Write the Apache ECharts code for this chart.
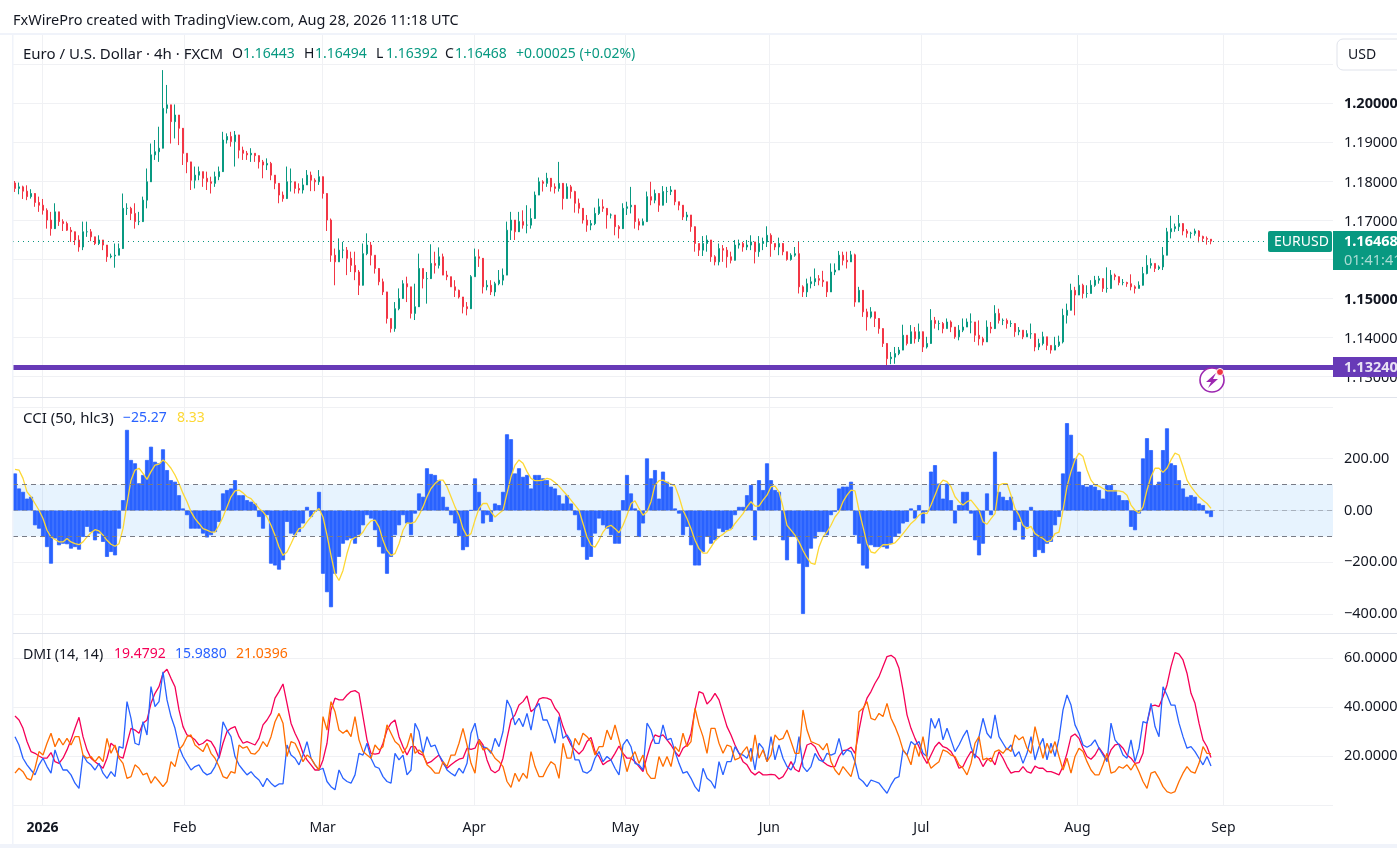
<!DOCTYPE html>
<html><head><meta charset="utf-8">
<style>html,body{margin:0;padding:0;background:#fff}#c{width:1397px;height:848px}</style>
<script src="https://cdn.jsdelivr.net/npm/echarts@6/dist/echarts.min.js"></script>
</head><body><div id="c"></div>
<script>
const priceHigh=[1.1801,1.1797,1.1789,1.1790,1.1780,1.1761,1.1761,1.1755,1.1731,1.1722,1.1744,1.1718,1.1703,1.1697,1.1683,1.1662,1.1662,1.1697,1.1697,1.1678,1.1654,1.1662,1.1645,1.1620,1.1615,1.1641,1.1641,1.1769,1.1744,1.1735,1.1744,1.1722,1.1761,1.1833,1.1897,1.1906,1.1940,1.2085,1.2047,1.1991,1.1997,1.1957,1.1923,1.1872,1.1825,1.1838,1.1838,1.1825,1.1825,1.1812,1.1825,1.1838,1.1927,1.1923,1.1927,1.1929,1.1893,1.1889,1.1878,1.1885,1.1872,1.1859,1.1855,1.1859,1.1850,1.1803,1.1782,1.1774,1.1838,1.1833,1.1799,1.1795,1.1808,1.1829,1.1825,1.1808,1.1829,1.1799,1.1756,1.1705,1.1628,1.1654,1.1645,1.1632,1.1620,1.1620,1.1573,1.1641,1.1667,1.1645,1.1611,1.1568,1.1551,1.1509,1.1449,1.1491,1.1526,1.1547,1.1556,1.1530,1.1538,1.1615,1.1577,1.1568,
1.1639,1.1620,1.1631,1.1615,1.1571,1.1556,1.1547,1.1523,1.1496,1.1491,1.1560,1.1628,1.1626,1.1564,1.1547,1.1547,1.1543,1.1573,1.1577,1.1697,1.1722,1.1691,1.1722,1.1726,1.1739,1.1731,1.1774,1.1810,1.1803,1.1822,1.1791,1.1795,1.1850,1.1778,1.1795,1.1791,1.1776,1.1756,1.1716,1.1714,1.1701,1.1733,1.1756,1.1754,1.1722,1.1718,1.1709,1.1688,1.1744,1.1748,1.1786,1.1726,1.1705,1.1705,1.1774,1.1799,1.1779,1.1761,1.1788,1.1786,1.1788,1.1774,1.1748,1.1718,1.1722,1.1705,1.1658,1.1641,1.1660,1.1662,1.1628,1.1611,1.1641,1.1637,1.1632,1.1620,1.1650,1.1651,1.1645,1.1650,1.1662,1.1645,1.1660,1.1656,1.1685,1.1667,1.1641,1.1656,1.1632,1.1620,1.1616,1.1632,1.1645,1.1534,1.1551,1.1556,1.1577,1.1560,1.1571,1.1543,1.1590,1.1590,1.1622,1.1620,1.1620,
1.1622,1.1615,1.1530,1.1487,1.1474,1.1478,1.1466,1.1438,1.1415,1.1380,1.1363,1.1376,1.1376,1.1433,1.1406,1.1432,1.1427,1.1436,1.1410,1.1402,1.1473,1.1453,1.1444,1.1440,1.1449,1.1444,1.1419,1.1432,1.1449,1.1449,1.1462,1.1436,1.1444,1.1402,1.1444,1.1440,1.1483,1.1474,1.1449,1.1449,1.1444,1.1423,1.1427,1.1419,1.1419,1.1436,1.1389,1.1397,1.1415,1.1402,1.1380,1.1402,1.1405,1.1474,1.1487,1.1538,1.1530,1.1560,1.1538,1.1534,1.1547,1.1558,1.1558,1.1547,1.1580,1.1573,1.1564,1.1547,1.1550,1.1543,1.1562,1.1534,1.1544,1.1581,1.1611,1.1603,1.1590,1.1585,1.1632,1.1681,1.1712,1.1692,1.1714,1.1686,1.1678,1.1671,1.1679,1.1675,1.1661,1.1659,1.1649];
const priceLow=[1.1773,1.1767,1.1755,1.1752,1.1756,1.1735,1.1722,1.1715,1.1679,1.1661,1.1697,1.1686,1.1673,1.1673,1.1645,1.1637,1.1620,1.1624,1.1658,1.1647,1.1637,1.1637,1.1624,1.1594,1.1603,1.1579,1.1611,1.1641,1.1714,1.1701,1.1679,1.1688,1.1709,1.1731,1.1838,1.1855,1.1850,1.1970,1.1974,1.1897,1.1910,1.1893,1.1842,1.1821,1.1778,1.1782,1.1803,1.1786,1.1778,1.1769,1.1786,1.1803,1.1859,1.1897,1.1889,1.1838,1.1859,1.1855,1.1855,1.1850,1.1850,1.1833,1.1808,1.1829,1.1803,1.1780,1.1744,1.1748,1.1778,1.1774,1.1769,1.1769,1.1769,1.1795,1.1775,1.1775,1.1791,1.1756,1.1673,1.1594,1.1534,1.1594,1.1603,1.1560,1.1568,1.1547,1.1509,1.1551,1.1611,1.1585,1.1564,1.1534,1.1509,1.1436,1.1413,1.1415,1.1470,1.1509,1.1491,1.1449,1.1445,1.1543,1.1526,1.1487,
1.1560,1.1564,1.1577,1.1560,1.1547,1.1530,1.1504,1.1500,1.1462,1.1457,1.1513,1.1556,1.1581,1.1513,1.1521,1.1509,1.1506,1.1534,1.1534,1.1586,1.1650,1.1650,1.1675,1.1679,1.1667,1.1679,1.1731,1.1769,1.1774,1.1786,1.1774,1.1769,1.1774,1.1728,1.1756,1.1756,1.1720,1.1718,1.1692,1.1671,1.1675,1.1688,1.1714,1.1722,1.1679,1.1705,1.1662,1.1654,1.1688,1.1714,1.1718,1.1679,1.1675,1.1688,1.1714,1.1739,1.1744,1.1722,1.1744,1.1745,1.1765,1.1739,1.1726,1.1701,1.1699,1.1671,1.1620,1.1609,1.1609,1.1620,1.1594,1.1585,1.1585,1.1594,1.1579,1.1590,1.1628,1.1628,1.1620,1.1624,1.1624,1.1590,1.1607,1.1624,1.1632,1.1607,1.1624,1.1611,1.1611,1.1597,1.1597,1.1607,1.1513,1.1504,1.1504,1.1526,1.1532,1.1534,1.1530,1.1504,1.1538,1.1560,1.1581,1.1585,1.1577,
1.1600,1.1479,1.1496,1.1453,1.1418,1.1449,1.1427,1.1410,1.1376,1.1329,1.1332,1.1333,1.1355,1.1380,1.1380,1.1393,1.1385,1.1389,1.1363,1.1372,1.1397,1.1423,1.1419,1.1411,1.1423,1.1414,1.1397,1.1393,1.1414,1.1427,1.1411,1.1389,1.1380,1.1380,1.1402,1.1411,1.1440,1.1436,1.1432,1.1423,1.1427,1.1402,1.1406,1.1396,1.1402,1.1397,1.1365,1.1368,1.1380,1.1368,1.1359,1.1370,1.1376,1.1385,1.1436,1.1509,1.1457,1.1513,1.1500,1.1502,1.1513,1.1530,1.1538,1.1517,1.1515,1.1547,1.1547,1.1534,1.1534,1.1530,1.1521,1.1513,1.1526,1.1536,1.1562,1.1577,1.1568,1.1573,1.1573,1.1637,1.1654,1.1671,1.1673,1.1662,1.1656,1.1654,1.1661,1.1644,1.1645,1.1638,1.1639];
const priceClose=[1.1782,1.1786,1.1775,1.1761,1.1769,1.1746,1.1739,1.1726,1.1701,1.1679,1.1722,1.1697,1.1692,1.1675,1.1671,1.1650,1.1632,1.1671,1.1671,1.1658,1.1641,1.1650,1.1637,1.1607,1.1609,1.1611,1.1628,1.1731,1.1731,1.1718,1.1697,1.1697,1.1752,1.1799,1.1868,1.1876,1.1885,1.1987,1.1996,1.1953,1.1970,1.1936,1.1872,1.1850,1.1803,1.1816,1.1825,1.1808,1.1799,1.1795,1.1812,1.1825,1.1906,1.1915,1.1902,1.1919,1.1880,1.1872,1.1868,1.1872,1.1866,1.1850,1.1842,1.1846,1.1816,1.1795,1.1765,1.1756,1.1799,1.1799,1.1782,1.1778,1.1791,1.1816,1.1803,1.1799,1.1812,1.1769,1.1701,1.1611,1.1594,1.1624,1.1624,1.1603,1.1585,1.1568,1.1534,1.1615,1.1637,1.1611,1.1577,1.1543,1.1517,1.1449,1.1423,1.1474,1.1500,1.1538,1.1530,1.1462,1.1479,1.1577,1.1551,1.1551,
1.1590,1.1585,1.1607,1.1560,1.1556,1.1530,1.1521,1.1504,1.1479,1.1474,1.1556,1.1607,1.1603,1.1530,1.1534,1.1517,1.1538,1.1547,1.1560,1.1675,1.1701,1.1671,1.1697,1.1688,1.1688,1.1705,1.1765,1.1799,1.1795,1.1808,1.1786,1.1782,1.1795,1.1756,1.1786,1.1774,1.1744,1.1731,1.1701,1.1688,1.1692,1.1718,1.1735,1.1731,1.1714,1.1714,1.1684,1.1679,1.1731,1.1735,1.1739,1.1697,1.1688,1.1697,1.1761,1.1752,1.1769,1.1739,1.1774,1.1774,1.1778,1.1748,1.1739,1.1709,1.1714,1.1684,1.1641,1.1624,1.1641,1.1650,1.1607,1.1594,1.1628,1.1624,1.1607,1.1598,1.1637,1.1641,1.1632,1.1637,1.1645,1.1620,1.1641,1.1645,1.1662,1.1641,1.1632,1.1641,1.1620,1.1600,1.1611,1.1615,1.1530,1.1517,1.1538,1.1543,1.1551,1.1547,1.1543,1.1517,1.1568,1.1573,1.1611,1.1598,1.1594,
1.1612,1.1491,1.1521,1.1466,1.1453,1.1466,1.1449,1.1423,1.1385,1.1346,1.1350,1.1359,1.1368,1.1406,1.1385,1.1415,1.1397,1.1415,1.1376,1.1385,1.1444,1.1436,1.1436,1.1423,1.1440,1.1427,1.1402,1.1419,1.1427,1.1440,1.1440,1.1406,1.1397,1.1389,1.1427,1.1423,1.1462,1.1444,1.1444,1.1436,1.1436,1.1415,1.1419,1.1402,1.1410,1.1410,1.1376,1.1385,1.1402,1.1380,1.1368,1.1380,1.1389,1.1457,1.1470,1.1521,1.1509,1.1534,1.1513,1.1513,1.1534,1.1547,1.1551,1.1526,1.1526,1.1560,1.1556,1.1541,1.1541,1.1538,1.1530,1.1526,1.1534,1.1564,1.1585,1.1590,1.1577,1.1581,1.1611,1.1671,1.1679,1.1684,1.1692,1.1673,1.1667,1.1667,1.1673,1.1659,1.1654,1.1652,1.1647];
const firstOpen=1.1796;
const cciHist=[143,85,72,46,53,-57,-70,-102,-141,-205,-108,-134,-128,-130,-147,-141,-151,-102,-63,-83,-115,-89,-121,-179,-160,-173,-70,40,311,195,182,105,137,195,246,188,182,236,156,117,111,59,8,-18,-70,-70,-70,-89,-104,-95,-83,-44,66,79,85,117,59,59,40,34,27,-25,-70,-18,-205,-212,-228,-192,-44,-89,-95,-83,-50,14,-25,-5,72,-244,-315,-373,-244,-179,-128,-115,-108,-128,-95,-57,-18,-31,-76,-141,-166,-244,-179,-95,-57,-18,-50,-95,-12,66,53,163,141,137,117,53,14,-18,-50,-99,
-153,-141,1,124,72,-50,-18,-44,27,21,72,294,275,143,163,130,137,85,137,137,124,117,92,85,59,27,59,27,-18,-76,-141,-190,-179,-89,-31,-57,-70,-95,-128,-128,40,137,66,8,-102,-50,201,124,156,46,150,111,92,8,-12,-95,-63,-134,-212,-212,-160,-102,-128,-115,-70,-83,-76,-70,-18,14,14,59,98,-115,117,79,182,117,79,72,-115,-192,-102,-102,-205,-399,-218,-147,-108,-83,-83,-95,-18,-5,85,92,92,111,-95,-128,-212,-224,-134,-141,-141,-141,-147,-128,-102,-89,-50,-44,8,-31,21,
-50,-5,150,175,104,46,104,40,-50,21,72,72,-12,-115,-173,-128,66,-18,227,72,53,40,53,-76,-44,-112,-63,14,-179,-153,-164,-128,-121,-57,-25,143,337,292,201,150,98,92,98,92,79,46,98,98,79,59,40,40,-63,-76,-12,201,279,233,98,111,233,317,182,175,117,85,53,59,53,27,21,-12,-25.27];
const cciMa=[159,156,124,72,53,27,1,-31,-76,-102,-112,-121,-121,-108,-121,-128,-132,-121,-102,-86,-74,-79,-95,-115,-130,-138,-128,-70,27,117,156,163,143,120,150,175,179,195,182,163,137,104,66,34,-5,-31,-50,-70,-76,-83,-83,-57,-25,14,53,76,79,68,53,46,27,8,-5,-25,-57,-95,-141,-173,-160,-128,-95,-70,-66,-44,-25,-5,8,-25,-95,-173,-244,-270,-231,-166,-115,-104,-99,-83,-57,-40,-37,-63,-115,-154,-173,-166,-128,-76,-48,-50,-44,-18,14,53,85,104,117,117,92,53,14,-18,
-70,-99,-89,-37,8,27,27,-5,-25,-12,1,66,130,175,195,182,150,124,115,115,117,124,120,108,94,76,59,40,21,1,-50,-102,-134,-141,-115,-83,-63,-57,-70,-86,-57,-18,27,37,8,-18,-5,34,98,115,117,108,102,95,53,1,-31,-70,-115,-147,-164,-164,-141,-117,-102,-92,-79,-74,-50,-31,-12,14,34,17,17,40,59,92,94,72,14,-57,-76,-95,-121,-154,-182,-203,-208,-141,-102,-83,-57,-25,-5,34,59,79,76,1,-63,-128,-160,-164,-147,-132,-132,-130,-125,-108,-89,-70,-50,-37,-18,
-9,-12,21,59,98,117,111,92,53,34,21,34,40,21,1,-44,-53,-31,-12,98,104,104,59,8,-18,-57,-70,-61,-89,-99,-108,-121,-115,-89,-83,1,92,150,195,221,208,156,117,98,94,85,76,76,76,76,72,59,21,1,-9,14,79,130,163,163,147,163,195,221,214,169,117,92,72,53,40,27,8.33];
const adx=[36.4,34.8,31.4,26.0,21.9,21.2,20.1,19.2,19.2,21.5,17.8,17.1,19.2,22.6,26.7,31.4,35.9,28.0,22.6,19.2,17.8,16.5,15.1,19.2,25.3,23.9,19.9,19.2,25.3,31.4,30.7,29.4,33.5,34.8,41.6,45.7,48.4,53.9,55.5,51.8,48.4,38.9,32.1,28.7,28.0,26.7,24.6,25.3,26.7,26.0,23.3,19.2,25.3,30.1,31.4,32.1,28.0,25.3,26.0,25.3,24.6,27.3,32.8,34.8,37.5,43.7,46.4,49.5,41.6,33.5,29.4,26.0,21.2,18.5,16.5,14.4,14.4,18.5,25.3,38.9,43.7,43.0,43.0,45.0,46.4,46.8,45.7,36.2,26.7,21.2,20.9,21.2,25.3,30.7,33.5,34.8,28.0,23.9,20.5,23.9,23.9,21.2,20.5,17.1,17.8,19.2,20.5,17.1,15.1,16.5,17.8,18.8,
19.2,23.3,22.8,23.3,26.9,24.6,18.5,14.4,13.3,14.4,19.2,27.3,34.8,36.9,40.9,42.3,44.6,38.2,39.6,43.3,43.9,43.7,43.0,39.6,37.5,32.1,28.0,24.6,22.6,20.9,22.6,26.0,27.7,21.9,19.9,16.5,17.8,18.5,21.2,24.2,21.2,19.2,19.2,17.8,15.8,13.7,19.9,25.3,28.7,28.0,28.7,26.7,24.6,21.9,19.9,23.3,24.6,29.4,38.9,46.4,45.7,41.3,43.0,45.7,43.0,37.5,32.1,28.7,24.6,21.2,17.8,16.5,13.7,12.4,13.7,12.4,12.4,12.6,12.4,10.7,11.7,14.4,17.8,14.7,13.7,19.2,24.6,25.3,23.9,20.5,17.8,16.5,15.8,15.8,19.9,22.3,22.6,23.7,21.2,30.7,38.9,43.7,46.4,49.8,52.5,56.6,60.7,61.2,60.0,55.9,47.1,36.9,31.4,27.3,23.9,
19.9,17.1,20.5,23.9,25.7,23.9,23.3,21.9,19.2,15.1,15.8,19.2,21.9,20.5,19.2,15.8,18.5,19.2,16.5,21.9,19.2,15.8,13.1,13.7,13.7,15.8,13.7,13.1,16.0,15.1,15.1,13.7,13.7,13.1,12.4,15.8,21.2,28.0,29.1,27.3,23.3,19.9,18.8,20.5,23.5,21.2,18.5,22.6,24.6,25.0,23.3,20.5,19.2,17.1,17.4,21.2,33.5,40.5,40.9,40.3,44.3,49.1,56.6,62.3,61.7,59.3,53.9,45.7,41.6,33.5,26.7,23.9,19.4792];
const plusDi=[28.0,24.6,19.2,16.5,14.4,12.4,16.5,19.2,15.8,13.1,22.6,17.8,14.4,14.4,12.4,9.0,6.9,20.5,17.8,16.5,14.4,17.1,13.1,11.0,13.7,11.7,23.9,23.3,42.3,35.5,25.3,24.6,34.1,28.7,48.4,40.3,42.3,54.5,43.0,36.2,31.4,23.9,19.9,17.1,14.4,15.8,16.5,13.7,12.4,13.1,15.8,19.9,34.1,30.7,28.0,19.9,16.5,14.4,12.4,13.7,11.7,10.3,7.6,11.0,9.0,7.6,8.7,8.7,24.6,20.5,19.2,16.5,20.5,26.0,19.2,16.5,14.4,15.1,9.7,7.6,6.3,14.4,11.0,9.7,9.0,12.4,21.2,20.5,25.3,19.2,15.8,15.1,11.7,9.7,9.0,21.2,18.5,20.5,12.4,14.4,33.5,30.1,21.2,28.0,23.9,24.6,20.5,17.8,14.4,13.1,12.0,15.1,
13.1,17.1,29.4,33.5,25.3,23.9,23.3,21.2,27.3,23.9,30.1,43.0,39.6,32.8,35.5,32.1,37.5,30.7,39.6,41.6,34.8,34.8,30.7,25.3,36.2,27.3,28.7,26.0,18.5,18.5,13.7,13.1,14.4,19.2,21.9,17.8,19.9,18.5,15.1,12.4,24.6,26.9,23.9,17.1,16.5,14.4,33.5,30.7,25.3,25.3,32.8,26.7,27.3,21.9,17.1,13.1,13.7,11.0,7.6,5.6,15.1,11.0,9.7,6.9,17.8,12.4,17.8,17.8,23.9,21.2,20.5,19.2,23.3,14.4,25.3,23.3,17.8,28.0,18.5,24.6,19.2,15.8,14.4,17.8,28.0,15.8,13.7,15.8,21.2,18.5,17.8,21.2,20.5,21.2,27.3,20.5,22.6,21.9,17.8,11.0,9.7,7.6,10.3,9.7,9.0,6.9,4.9,8.3,11.0,11.7,22.6,20.5,26.0,24.6,26.0,
21.2,19.9,35.5,31.4,35.5,26.7,31.4,26.7,21.9,24.6,28.0,30.7,23.9,19.2,28.0,35.5,29.4,27.3,36.9,28.0,25.3,22.6,24.6,19.9,21.9,17.1,21.2,28.0,18.5,23.9,27.3,18.5,25.3,19.9,27.3,38.9,45.0,40.9,32.8,29.4,24.6,23.7,24.6,26.7,23.3,20.5,17.8,33.5,26.7,24.6,20.5,19.2,26.7,17.8,23.3,34.1,33.5,41.6,32.1,28.0,48.4,45.0,40.9,40.9,33.5,28.0,23.3,23.9,21.9,19.2,16.5,19.9,15.988];
const minusDi=[13.1,15.1,13.7,11.0,10.3,15.1,21.9,20.5,25.3,29.4,23.9,27.3,24.6,27.3,24.6,28.0,28.0,20.5,19.2,19.9,17.8,19.9,17.8,27.3,21.2,24.6,19.2,17.1,11.0,11.7,16.5,15.1,12.4,13.1,9.0,11.7,9.7,7.6,9.7,17.8,15.8,22.6,24.6,28.0,28.7,24.6,23.3,21.9,25.3,21.2,19.2,15.8,11.7,11.0,13.7,13.1,24.6,23.3,23.9,21.2,20.9,22.6,26.0,23.9,28.0,34.1,37.5,33.5,19.9,26.0,25.3,21.9,17.8,20.5,19.2,16.5,14.4,36.2,30.7,42.3,38.2,30.7,29.4,30.7,28.0,36.2,26.7,21.9,20.5,19.2,24.6,22.6,23.9,32.8,29.4,26.0,24.6,21.2,23.9,29.4,21.2,22.6,21.2,16.5,15.1,13.1,13.1,17.8,15.8,20.5,20.5,25.3,
31.4,24.6,17.1,13.1,26.7,22.6,23.3,21.9,19.2,17.8,15.8,9.7,7.3,13.1,9.7,13.1,11.0,21.9,15.8,11.7,11.7,15.1,17.8,16.5,11.0,25.3,19.2,19.2,27.3,24.6,29.4,28.0,26.0,20.5,23.9,23.9,30.7,26.7,32.8,26.7,20.5,13.7,19.2,21.9,17.1,20.5,13.1,11.0,11.0,19.9,15.8,19.9,15.8,23.9,21.9,29.4,23.9,26.0,39.6,32.8,28.0,21.2,31.4,31.4,25.3,21.2,24.6,23.9,18.5,19.2,21.9,23.9,17.8,28.7,19.2,22.6,17.8,20.5,28.7,26.7,27.3,30.7,26.0,21.2,21.2,38.9,30.7,26.0,25.3,24.6,22.6,25.3,17.8,14.4,12.4,15.8,13.7,11.7,17.8,38.2,39.6,42.3,35.5,34.8,37.5,36.2,41.6,35.5,32.1,28.0,22.6,20.5,16.5,24.6,19.9,
28.0,19.2,15.1,16.5,17.8,22.6,21.9,20.5,19.9,16.5,15.1,12.4,17.1,25.3,28.0,18.5,19.2,17.8,21.9,22.6,21.2,23.3,21.9,28.7,26.7,28.0,23.3,21.2,32.1,25.3,19.2,25.3,21.2,26.0,19.9,14.4,19.2,13.1,19.9,23.3,21.9,17.8,14.4,12.4,12.4,16.5,21.2,13.1,13.7,15.8,15.1,16.5,14.4,17.1,13.7,9.7,6.9,13.1,13.7,11.0,7.6,5.6,4.9,5.6,9.7,13.1,15.8,13.7,13.1,17.1,23.9,21.2,21.0396];
const monthNames=['2026','Feb','Mar','Apr','May','Jun','Jul','Aug','Sep'];
const monthPositions=[7.4,42.9,77.4,115.3,153.1,189.1,227.1,266.1,302.6];
const priceTicks=[1.13,1.14,1.15,1.16,1.17,1.18,1.19,1.2,1.21];
const boldPriceTicks=[1.15,1.2];
const hiddenPriceTicks=[1.16,1.21];
const cciTicks=[-400,-200,0,200,400];
const dmiTicks=[0,20,40,60];
const lastPrice=1.16468, levelPrice=1.1324;
const slotCount=330;

const FONT='"Noto Sans"';
const INK='#131722', UP='#089981', DOWN='#f23645', GRID='#f0f1f4', SEP='#e0e3eb';
const AXIS_SIZE=14.5;
const categories=Array.from({length:slotCount},(_,i)=>String(i));
const candleData=priceClose.map((c,i)=>[i===0?firstOpen:priceClose[i-1],c,priceLow[i],priceHigh[i]]);
const tops=[35,398,634], heights=[362,235,172];
const grids=tops.map((t,i)=>({left:13,width:1320,top:t,height:heights[i],outerBoundsMode:'none'}));
const xCat=[0,1,2].map(i=>({type:'category',gridIndex:i,data:categories,show:false,boundaryGap:true}));
const xMonth=[0,1,2].map(i=>({type:'value',gridIndex:i,min:0,max:slotCount,position:'bottom',
  axisLine:{show:false},
  axisTick:{show:false,customValues:monthPositions},
  splitLine:{show:true,lineStyle:{color:GRID,width:1}},
  axisLabel:i===2?{show:true,customValues:monthPositions,margin:15,hideOverlap:false,showMinLabel:true,showMaxLabel:true,
    fontFamily:FONT,fontSize:14,color:INK,
    formatter:v=>{const k=monthPositions.findIndex(p=>Math.abs(p-v)<.01);const n=monthNames[k];return k===0?'{b|'+n+'}':n;},
    rich:{b:{fontFamily:FONT,fontSize:14,fontWeight:'bold',color:INK}}}:{show:false}}));
const yBase={position:'right',scale:true,axisLine:{show:false},splitLine:{show:true,lineStyle:{color:GRID,width:1}}};
const yLabel={margin:11,fontFamily:FONT,fontSize:AXIS_SIZE,color:INK,hideOverlap:false,padding:[2,0,0,0]};
const yAxes=[
 {...yBase,gridIndex:0,min:1.12479,max:1.21749,axisTick:{show:false,customValues:priceTicks},
  axisLabel:{...yLabel,customValues:priceTicks,
   formatter:v=>{if(hiddenPriceTicks.some(t=>Math.abs(t-v)<1e-6))return '';const s=v.toFixed(5);return boldPriceTicks.some(t=>Math.abs(t-v)<1e-6)?'{b|'+s+'}':s;},
   rich:{b:{fontFamily:FONT,fontSize:AXIS_SIZE,fontWeight:'bold',color:INK}}}},
 {...yBase,gridIndex:1,min:-472.4,max:433.9,axisTick:{show:false,customValues:cciTicks},
  axisLabel:{...yLabel,customValues:cciTicks,
   formatter:v=>v===400?'':(v<0?'\u2212':'')+Math.abs(v).toFixed(2)}},
 {...yBase,gridIndex:2,min:-0.3,max:69.9,axisTick:{show:false,customValues:dmiTicks},
  axisLabel:{...yLabel,customValues:dmiTicks,
   formatter:v=>v===0?'':v.toFixed(4)}}];
const silentLine=(y,style)=>({yAxis:y,lineStyle:style,label:{show:false},symbol:'none'});
const series=[
 {type:'candlestick',xAxisIndex:0,yAxisIndex:0,data:candleData,barWidth:2,clip:true,
  itemStyle:{color:UP,color0:DOWN,borderColor:UP,borderColor0:DOWN,borderWidth:1},
  markLine:{silent:true,symbol:'none',animation:false,label:{show:false},precision:5,data:[
    silentLine(lastPrice,{color:UP,type:[1,4],width:1}),
    silentLine(levelPrice,{color:'#673ab7',type:'solid',width:5})]}},
 {type:'bar',xAxisIndex:1,yAxisIndex:1,data:cciHist,barWidth:'100%',barGap:0,itemStyle:{color:'#2962ff',borderColor:'#2962ff',borderWidth:0.8},
  markArea:{silent:true,animation:false,itemStyle:{color:'rgba(33,150,243,0.11)'},data:[[{yAxis:100},{yAxis:-100}]]},
  markLine:{silent:true,symbol:'none',animation:false,z:6,label:{show:false},data:[
    silentLine(100,{color:'#787b86',type:[5,4],width:1}),
    silentLine(0,{color:'rgba(120,123,134,0.5)',type:[5,4],width:1}),
    silentLine(-100,{color:'#787b86',type:[5,4],width:1})]}},
 {type:'line',xAxisIndex:1,yAxisIndex:1,data:cciMa,showSymbol:false,lineStyle:{color:'#fdd835',width:1.3},z:5},
 {type:'line',xAxisIndex:2,yAxisIndex:2,data:adx,showSymbol:false,lineStyle:{color:'#f50057',width:1.3}},
 {type:'line',xAxisIndex:2,yAxisIndex:2,data:plusDi,showSymbol:false,lineStyle:{color:'#2962ff',width:1.3}},
 {type:'line',xAxisIndex:2,yAxisIndex:2,data:minusDi,showSymbol:false,lineStyle:{color:'#ff6d00',width:1.3}}
];
const txt=(x,y,text,fill,size,weight)=>({type:'text',x,y,z:60,style:{text,fill,fontFamily:FONT,fontSize:size||14,fontWeight:weight||'normal',textAlign:'left',textVerticalAlign:'middle'}});
const rect=(x,y,w,h,fill,r,stroke)=>({type:'rect',z:50,shape:{x,y,width:w,height:h,r:r||0},style:{fill,stroke:stroke||null}});
const graphics=[
 rect(0,33,1397,2,'#f0f3fa'),rect(12,33,1.5,812,'#f0f3fa'),rect(13,397,1384,1,SEP),rect(13,633,1384,1,SEP),rect(0,844,1397,4,'#f0f3fa'),
 txt(13,20.5,'FxWirePro created with TradingView.com, Aug 28, 2026 11:18 UTC',INK,14.5),
 txt(23,54.5,'Euro / U.S. Dollar \u00b7 4h \u00b7 FXCM',INK,15),
 txt(232,54.5,'O',INK,14),txt(243,54.5,'1.16443',UP,14),
 txt(304,54.5,'H',INK,14),txt(315,54.5,'1.16494',UP,14),
 txt(376,54.5,'L',INK,14),txt(386,54.5,'1.16392',UP,14),
 txt(445,54.5,'C',INK,14),txt(455,54.5,'1.16468',UP,14),
 txt(516,54.5,'+0.00025 (+0.02%)',UP,14),
 txt(23,418.5,'CCI (50, hlc3)',INK,15),txt(123,418.5,'\u221225.27','#2962ff',14),txt(177,418.5,'8.33','#fdd835',14),
 txt(23,654.5,'DMI (14, 14)',INK,14.2),txt(114,654.5,'19.4792','#f50057',14),txt(175,654.5,'15.9880','#2962ff',14),txt(236,654.5,'21.0396','#ff6d00',14),
 rect(1337,39,70,31,'#fff',6,SEP),txt(1348,55,'USD',INK,14),
 rect(1268,231,64,21,UP,2),txt(1274,242,'EURUSD','#fff',14),
 rect(1333,231,64,39,UP),txt(1344,242,'1.16468','#fff',14.5,'bold'),txt(1344,261,'01:41:41','rgba(255,255,255,0.65)',14.5),
 rect(1333,357,64,20,'#673ab7'),txt(1344,367.5,'1.13240','rgba(255,255,255,0.85)',14.5,'bold'),
 {type:'circle',z:55,shape:{cx:1212,cy:380,r:12},style:{fill:'#fff',stroke:'#9c27b0',lineWidth:1.6}},
 {type:'polygon',z:56,shape:{points:[[1216,373],[1206,382],[1211,382],[1208,388],[1218,379],[1213,379]]},style:{fill:'#9c27b0'}},
 {type:'circle',z:57,shape:{cx:1220,cy:372,r:3.5},style:{fill:DOWN,stroke:'#fff',lineWidth:1}}
];
const chart=echarts.init(document.getElementById('c'),null,{renderer:'canvas'});
chart.setOption({animation:false,backgroundColor:'#fff',grid:grids,xAxis:[...xCat,...xMonth],yAxis:yAxes,series,graphic:graphics,tooltip:{show:false}});
</script></body></html>
